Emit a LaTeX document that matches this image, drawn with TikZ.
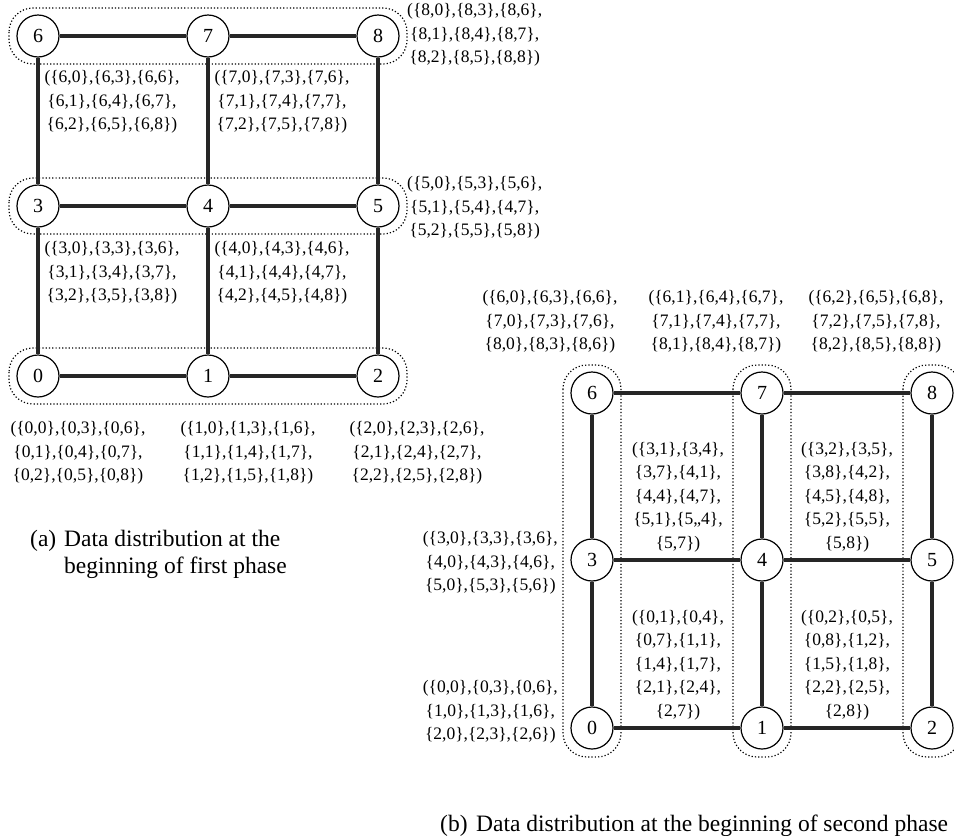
\documentclass[tikz,border=0pt]{standalone}
\usepackage{fontspec}
\setmainfont{Liberation Serif}
\begin{document}
\begin{tikzpicture}[x=1pt,y=-1pt,
  proc/.style={circle, draw=black, line width=1.2pt, fill=white,
    minimum size=42pt, inner sep=0pt, font=\fontsize{20}{20}\selectfont},
  link/.style={draw=black!85, line width=3.4pt},
  group/.style={draw=black, line width=1.2pt, dash pattern=on 1.2pt off 2.1pt,
    rounded corners=24pt},
  blk/.style={align=center, inner sep=0pt, font=\fontsize{17.5}{23.5}\selectfont},
  captext/.style={inner sep=0pt, anchor=base west, font=\fontsize{23.5}{27}\selectfont}
]
\useasboundingbox (0,0) rectangle (954,836);

% ---------- (a) first phase: row-wise groups ----------
\node[proc] (a6) at (38,36)  {6};
\node[proc] (a7) at (208,36) {7};
\node[proc] (a8) at (378,36) {8};
\node[proc] (a3) at (38,206)  {3};
\node[proc] (a4) at (208,206) {4};
\node[proc] (a5) at (378,206) {5};
\node[proc] (a0) at (38,376)  {0};
\node[proc] (a1) at (208,376) {1};
\node[proc] (a2) at (378,376) {2};

\foreach \l/\r in {a6/a8,a3/a5,a0/a2}
  \draw[group] ([shift={(-29,-28)}]\l.center) rectangle ([shift={(29,28)}]\r.center);

\foreach \u/\v in {a6/a7,a7/a8,a3/a4,a4/a5,a0/a1,a1/a2,a6/a3,a3/a0,a7/a4,a4/a1,a8/a5,a5/a2}
  \draw[link] (\u) -- (\v);

\node[blk, anchor=west] (la8) at (407,35)
  {(\{8,0\},\{8,3\},\{8,6\},\\\{8,1\},\{8,4\},\{8,7\},\\\{8,2\},\{8,5\},\{8,8\})};
\node[blk, anchor=west] (la5) at (407,208)
  {(\{5,0\},\{5,3\},\{5,6\},\\\{5,1\},\{5,4\},\{4,7\},\\\{5,2\},\{5,5\},\{5,8\})};
\node[blk] (la6) at (112,102)
  {(\{6,0\},\{6,3\},\{6,6\},\\\{6,1\},\{6,4\},\{6,7\},\\\{6,2\},\{6,5\},\{6,8\})};
\node[blk] (la7) at (282,102)
  {(\{7,0\},\{7,3\},\{7,6\},\\\{7,1\},\{7,4\},\{7,7\},\\\{7,2\},\{7,5\},\{7,8\})};
\node[blk] (la3) at (112,273)
  {(\{3,0\},\{3,3\},\{3,6\},\\\{3,1\},\{3,4\},\{3,7\},\\\{3,2\},\{3,5\},\{3,8\})};
\node[blk] (la4) at (282,273)
  {(\{4,0\},\{4,3\},\{4,6\},\\\{4,1\},\{4,4\},\{4,7\},\\\{4,2\},\{4,5\},\{4,8\})};
\node[blk] (la0) at (78,453)
  {(\{0,0\},\{0,3\},\{0,6\},\\\{0,1\},\{0,4\},\{0,7\},\\\{0,2\},\{0,5\},\{0,8\})};
\node[blk] (la1) at (248,453)
  {(\{1,0\},\{1,3\},\{1,6\},\\\{1,1\},\{1,4\},\{1,7\},\\\{1,2\},\{1,5\},\{1,8\})};
\node[blk] (la2) at (417,453)
  {(\{2,0\},\{2,3\},\{2,6\},\\\{2,1\},\{2,4\},\{2,7\},\\\{2,2\},\{2,5\},\{2,8\})};

\node[captext] (capa) at (30,546) {(a)};
\node[captext] (capa1) at (64,546) {Data distribution at the};
\node[captext] (capa2) at (64,573) {beginning of first phase};

% ---------- (b) second phase: column-wise groups ----------
\node[proc] (b6) at (592,393) {6};
\node[proc] (b7) at (762,393) {7};
\node[proc] (b8) at (932,393) {8};
\node[proc] (b3) at (592,560) {3};
\node[proc] (b4) at (762,560) {4};
\node[proc] (b5) at (932,560) {5};
\node[proc] (b0) at (592,728) {0};
\node[proc] (b1) at (762,728) {1};
\node[proc] (b2) at (932,728) {2};

\foreach \t/\b in {b6/b0,b7/b1,b8/b2}
  \draw[group] ([shift={(-29,-28)}]\t.center) rectangle ([shift={(29,29)}]\b.center);

\foreach \u/\v in {b6/b7,b7/b8,b3/b4,b4/b5,b0/b1,b1/b2,b6/b3,b3/b0,b7/b4,b4/b1,b8/b5,b5/b2}
  \draw[link] (\u) -- (\v);

\node[blk] (lb6) at (550,322)
  {(\{6,0\},\{6,3\},\{6,6\},\\\{7,0\},\{7,3\},\{7,6\},\\\{8,0\},\{8,3\},\{8,6\})};
\node[blk] (lb7) at (716,322)
  {(\{6,1\},\{6,4\},\{6,7\},\\\{7,1\},\{7,4\},\{7,7\},\\\{8,1\},\{8,4\},\{8,7\})};
\node[blk] (lb8) at (876,322)
  {(\{6,2\},\{6,5\},\{6,8\},\\\{7,2\},\{7,5\},\{7,8\},\\\{8,2\},\{8,5\},\{8,8\})};
\node[blk, anchor=east] (lb3) at (558,563)
  {(\{3,0\},\{3,3\},\{3,6\},\\\{4,0\},\{4,3\},\{4,6\},\\\{5,0\},\{5,3\},\{5,6\})};
\node[blk, anchor=east] (lb0) at (558,712)
  {(\{0,0\},\{0,3\},\{0,6\},\\\{1,0\},\{1,3\},\{1,6\},\\\{2,0\},\{2,3\},\{2,6\})};
\node[blk] (lb34a) at (678,497)
  {(\{3,1\},\{3,4\},\\\{3,7\},\{4,1\},\\\{4,4\},\{4,7\},\\\{5,1\},\{5,,4\},\\\{5,7\})};
\node[blk] (lb45a) at (847,497)
  {(\{3,2\},\{3,5\},\\\{3,8\},\{4,2\},\\\{4,5\},\{4,8\},\\\{5,2\},\{5,5\},\\\{5,8\})};
\node[blk] (lb01a) at (678,665)
  {(\{0,1\},\{0,4\},\\\{0,7\},\{1,1\},\\\{1,4\},\{1,7\},\\\{2,1\},\{2,4\},\\\{2,7\})};
\node[blk] (lb12a) at (847,665)
  {(\{0,2\},\{0,5\},\\\{0,8\},\{1,2\},\\\{1,5\},\{1,8\},\\\{2,2\},\{2,5\},\\\{2,8\})};

\node[captext] (capb) at (440,831) {(b)};
\node[captext] (capb1) at (476,831) {Data distribution at the beginning of second phase};
\end{tikzpicture}
\end{document}
